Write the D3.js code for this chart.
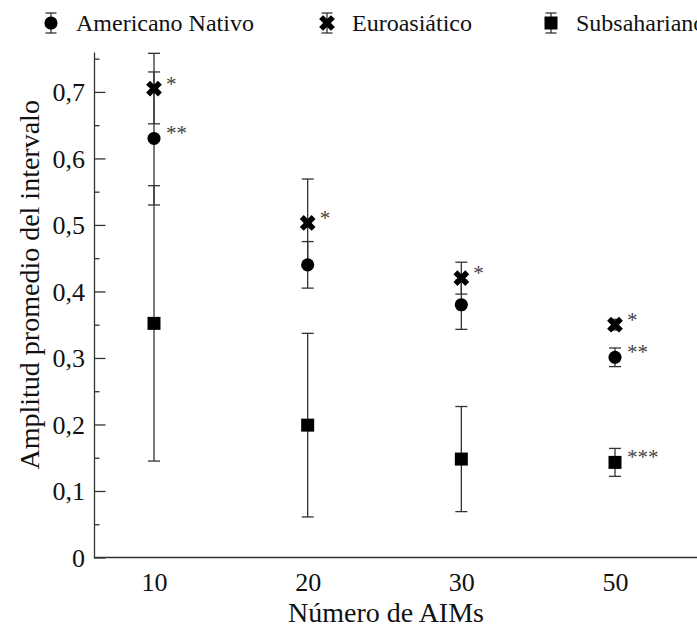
<!DOCTYPE html>
<html>
<head>
<meta charset="utf-8">
<script src="https://cdn.jsdelivr.net/npm/d3@7.9.0/dist/d3.min.js"></script>
<style>
  body { margin: 0; background: #fff; }
  svg, svg text { font-family: "Liberation Serif", "Times New Roman", serif; }
  .axis path, .axis line { stroke: #333; stroke-width: 1.3; }
  .axis text { font-size: 26px; fill: #111; }
</style>
</head>
<body>
<div id="chart"></div>
<script>
// AIM counts (categories on x)
const categories = ['10', '20', '30', '50'];

// mean interval width and half error bar, per population
const nativo = [0.630, 0.440, 0.380, 0.301];
const nativoErr = [0.100, 0.035, 0.037, 0.014];
const nativoStars = ['**', '', '', '**'];

const euro = [0.705, 0.503, 0.420, 0.350];
const euroErr = [0.053, 0.066, 0.024, 0.008];
const euroStars = ['*', '*', '*', '*'];

const subs = [0.352, 0.199, 0.148, 0.143];
const subsErr = [0.207, 0.138, 0.079, 0.021];
const subsStars = ['', '', '', '***'];

const yTicks = [0, 0.1, 0.2, 0.3, 0.4, 0.5, 0.6, 0.7];
const yMinorTicks = [0.05, 0.15, 0.25, 0.35, 0.45, 0.55, 0.65, 0.75];

const width = 697;
const height = 633;
const margin = { top: 52, right: 0, bottom: 75.5, left: 94 };

const series = [
  { name: 'Americano Nativo', values: nativo, err: nativoErr, stars: nativoStars, shape: 'circle' },
  { name: 'Euroasiático', values: euro, err: euroErr, stars: euroStars, shape: 'x' },
  { name: 'Subsahariano', values: subs, err: subsErr, stars: subsStars, shape: 'square' },
];

const xScale = d3.scalePoint().domain(categories).range([154, 615]);
const yScale = d3.scaleLinear().domain([0, 0.76]).range([height - margin.bottom, margin.top]);

const svg = d3.select('#chart')
  .append('svg')
  .attr('width', width)
  .attr('height', height);

function symbolFor(shape) {
  if (shape === 'circle') return d3.symbol(d3.symbolCircle, 135)();
  if (shape === 'square') return d3.symbol(d3.symbolSquare, 169)();
  return d3.symbol(d3.symbolCross, 155)();
}
function rotateFor(shape) {
  return shape === 'x' ? ' rotate(45)' : '';
}

const serif = '"Liberation Serif", "Times New Roman", serif';

// y axis: minor ticks, then major ticks with labels
svg.append('g')
  .attr('class', 'axis')
  .attr('transform', `translate(${margin.left},0)`)
  .call(d3.axisLeft(yScale).tickValues(yMinorTicks).tickSize(-5.5).tickFormat(''))
  .select('.domain').remove();

svg.append('g')
  .attr('class', 'axis')
  .attr('transform', `translate(${margin.left},0)`)
  .call(d3.axisLeft(yScale)
    .tickValues(yTicks)
    .tickSizeInner(-11.5)
    .tickSizeOuter(0)
    .tickPadding(9)
    .tickFormat((d) => d === 0 ? '0' : d3.format('.1f')(d).replace('.', ',')))
  .attr('font-family', serif)
  .call((g) => g.selectAll('text').attr('dy', '0.34em'));

// x axis
const xAxis = svg.append('g')
  .attr('class', 'axis')
  .attr('transform', `translate(0,${yScale(0)})`)
  .call(d3.axisBottom(xScale).tickSize(0).tickPadding(10))
  .attr('font-family', serif);
xAxis.select('.domain').remove();
xAxis.selectAll('text').attr('dy', '0.71em').attr('y', 15);
xAxis.append('line')
  .attr('x1', margin.left)
  .attr('x2', width)
  .attr('stroke', '#333')
  .attr('stroke-width', 1.3);

// axis titles
svg.append('text')
  .attr('x', 386)
  .attr('y', 622)
  .attr('text-anchor', 'middle')
  .style('font-size', '28px')
  .attr('fill', '#111')
  .text('Número de AIMs');

svg.append('text')
  .attr('transform', `translate(39,${yScale(0.41)}) rotate(-90)`)
  .attr('text-anchor', 'middle')
  .style('font-size', '28px')
  .attr('fill', '#111')
  .text('Amplitud promedio del intervalo');

// error bars
const capW = 6;
const bars = svg.append('g').attr('class', 'errorbars')
  .attr('stroke', '#333')
  .attr('stroke-width', 1.3)
  .attr('fill', 'none');

series.forEach((s) => {
  const g = bars.append('g');
  const rows = categories.map((c, i) => ({ c, v: s.values[i], e: s.err[i] }));
  g.selectAll('line.v')
    .data(rows)
    .join('line')
    .attr('x1', (d) => xScale(d.c))
    .attr('x2', (d) => xScale(d.c))
    .attr('y1', (d) => yScale(d.v - d.e))
    .attr('y2', (d) => yScale(d.v + d.e));
  ['lo', 'hi'].forEach((k) => {
    g.selectAll('line.' + k)
      .data(rows)
      .join('line')
      .attr('class', k)
      .attr('x1', (d) => xScale(d.c) - capW)
      .attr('x2', (d) => xScale(d.c) + capW)
      .attr('y1', (d) => yScale(k === 'lo' ? d.v - d.e : d.v + d.e))
      .attr('y2', (d) => yScale(k === 'lo' ? d.v - d.e : d.v + d.e));
  });
});

// markers and significance asterisks
series.forEach((s) => {
  const rows = categories.map((c, i) => ({ c, v: s.values[i], star: s.stars[i] }));
  svg.append('g')
    .selectAll('path')
    .data(rows)
    .join('path')
    .attr('d', symbolFor(s.shape))
    .attr('fill', '#000')
    .attr('transform', (d) => `translate(${xScale(d.c)},${yScale(d.v)})${rotateFor(s.shape)}`);

  svg.append('g')
    .selectAll('text')
    .data(rows.filter((d) => d.star))
    .join('text')
    .attr('x', (d) => xScale(d.c) + 12)
    .attr('y', (d) => yScale(d.v) + 2)
    .style('font-size', '21px')
    .attr('fill', '#444')
    .text((d) => d.star);
});

// legend
const legendX = [51, 327, 551];
const legend = svg.append('g').attr('class', 'legend');
series.forEach((s, i) => {
  const g = legend.append('g').attr('transform', `translate(${legendX[i]},23)`);
  g.append('line').attr('y1', -10).attr('y2', 10).attr('stroke', '#333').attr('stroke-width', 1.3);
  g.append('line').attr('x1', -5.5).attr('x2', 5.5).attr('y1', -10).attr('y2', -10).attr('stroke', '#333').attr('stroke-width', 1.3);
  g.append('line').attr('x1', -5.5).attr('x2', 5.5).attr('y1', 10).attr('y2', 10).attr('stroke', '#333').attr('stroke-width', 1.3);
  g.append('path')
    .attr('d', symbolFor(s.shape))
    .attr('transform', rotateFor(s.shape).trim() || null)
    .attr('fill', '#000');
  g.append('text')
    .attr('x', 25)
    .attr('y', 8)
    .style('font-size', '24px')
    .attr('fill', '#111')
    .text(s.name);
});
</script>
</body>
</html>
